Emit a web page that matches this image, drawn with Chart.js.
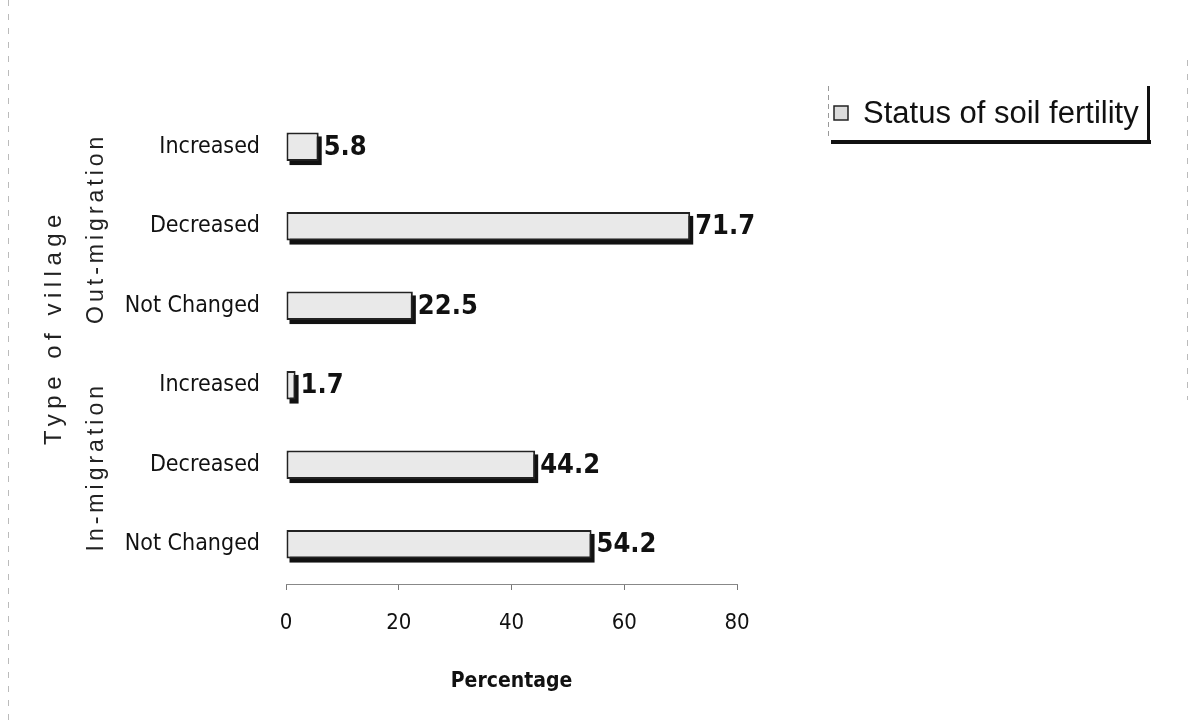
<!DOCTYPE html>
<html>
<head>
<meta charset="utf-8">
<script src="https://cdn.jsdelivr.net/npm/chart.js@4"></script>
<style>
  html, body { margin: 0; padding: 0; background: #fff; }
  #wrap { width: 1193px; height: 720px; position: relative; }
</style>
</head>
<body>
<div id="wrap"><canvas id="soilChart" width="1193" height="720"></canvas></div>
<script>
const categories = ['Increased', 'Decreased', 'Not Changed', 'Increased', 'Decreased', 'Not Changed'];
const groups = ['Out-migration', 'In-migration'];
const fertility = [5.8, 71.7, 22.5, 1.7, 44.2, 54.2];
const xTicks = [0, 20, 40, 60, 80];

const narrow = '"Liberation Sans Narrow", "DejaVu Sans Condensed", "Liberation Sans", sans-serif';
const plain = '"Liberation Sans", Arial, sans-serif';

// shadow under each bar, value label at its end
const barExtras = {
    id: 'barExtras',
    beforeDatasetsDraw(chart) {
        const ctx = chart.ctx;
        chart.getDatasetMeta(0).data.forEach(bar => {
            const h = bar.height;
            ctx.save();
            ctx.fillStyle = '#111';
            ctx.fillRect(bar.base + 3, bar.y - h / 2 + 4, bar.x - bar.base, h);
            ctx.restore();
        });
    },
    afterDatasetsDraw(chart) {
        const ctx = chart.ctx;
        ctx.save();
        ctx.font = 'bold 27px ' + narrow;
        ctx.fillStyle = '#111';
        ctx.textAlign = 'left';
        ctx.textBaseline = 'middle';
        chart.getDatasetMeta(0).data.forEach((bar, i) => {
            ctx.fillText(String(fertility[i]), bar.x + 5, bar.y + 1);
        });
        ctx.restore();
    }
};

// group labels, y title, legend box and page edges
const sideText = {
    id: 'sideText',
    afterDraw(chart) {
        const ctx = chart.ctx;
        const y = chart.scales.y;
        ctx.save();

        ctx.strokeStyle = '#bbb';
        ctx.lineWidth = 1;
        ctx.setLineDash([6, 8]);
        ctx.beginPath();
        ctx.moveTo(8.5, 0); ctx.lineTo(8.5, 720);
        ctx.moveTo(1187.5, 60); ctx.lineTo(1187.5, 400);
        ctx.stroke();
        ctx.setLineDash([]);

        ctx.fillStyle = '#222';
        ctx.textAlign = 'center';
        ctx.textBaseline = 'middle';
        ctx.font = '23px ' + plain;
        ctx.letterSpacing = '4px';
        groups.forEach((g, gi) => {
            const yc = (y.getPixelForValue(gi * 3) + y.getPixelForValue(gi * 3 + 2)) / 2 + 2;
            ctx.save();
            ctx.translate(97, yc);
            ctx.rotate(-Math.PI / 2);
            ctx.fillText(g, 0, 0);
            ctx.restore();
        });
        ctx.font = '24px ' + plain;
        ctx.letterSpacing = '5.5px';
        ctx.save();
        ctx.translate(54, 327);
        ctx.rotate(-Math.PI / 2);
        ctx.fillText('Type of village', 0, 0);
        ctx.restore();
        ctx.letterSpacing = '0px';

        // legend
        const lx = 828, ly = 86, lw = 320, lh = 54;
        ctx.fillStyle = '#111';
        ctx.fillRect(lx + 3, ly + lh, lw, 4);
        ctx.fillRect(lx + lw - 1, ly, 3, lh + 4);
        ctx.strokeStyle = '#999';
        ctx.lineWidth = 1;
        ctx.setLineDash([5, 4]);
        ctx.beginPath();
        ctx.moveTo(lx + 0.5, ly); ctx.lineTo(lx + 0.5, ly + lh);
        ctx.stroke();
        ctx.setLineDash([]);
        ctx.fillStyle = '#dcdcdc';
        ctx.fillRect(lx + 6, ly + 20, 14, 14);
        ctx.strokeStyle = '#222';
        ctx.lineWidth = 1.5;
        ctx.strokeRect(lx + 6, ly + 20, 14, 14);
        ctx.fillStyle = '#111';
        ctx.textAlign = 'left';
        ctx.font = '31px ' + plain;
        ctx.fillText('Status of soil fertility', lx + 35, ly + 28);
        ctx.restore();
    }
};

new Chart(document.getElementById('soilChart'), {
    type: 'bar',
    data: {
        labels: categories,
        datasets: [{
            label: 'Status of soil fertility',
            data: fertility,
            backgroundColor: '#e9e9e9',
            borderColor: '#222',
            borderWidth: 2,
            borderSkipped: false,
            barPercentage: 0.72,
            categoryPercentage: 0.5
        }]
    },
    options: {
        indexAxis: 'y',
        responsive: false,
        animation: false,
        layout: { padding: { left: 0, top: 107, right: 456, bottom: 0 } },
        plugins: {
            legend: { display: false },
            tooltip: { enabled: false }
        },
        scales: {
            x: {
                min: 0,
                max: 80,
                afterBuildTicks: s => { s.ticks = xTicks.map(v => ({ value: v })); },
                afterFit: s => { s.height = 136; },
                grid: { drawOnChartArea: false, drawTicks: true, tickLength: 6, color: '#777' },
                border: { display: true, color: '#888', dash: [4, 3] },
                ticks: {
                    padding: 20,
                    color: '#111',
                    font: { family: narrow, size: 22 }
                },
                title: {
                    display: true,
                    text: 'Percentage',
                    color: '#111',
                    font: { family: narrow, size: 21, weight: 'bold' },
                    padding: { top: 4, bottom: 26 }
                }
            },
            y: {
                afterFit: s => { s.width = 286; },
                grid: { display: false },
                border: { display: false },
                ticks: {
                    padding: 18,
                    color: '#111',
                    font: { family: narrow, size: 23 }
                }
            }
        }
    },
    plugins: [barExtras, sideText]
});
</script>
</body>
</html>
